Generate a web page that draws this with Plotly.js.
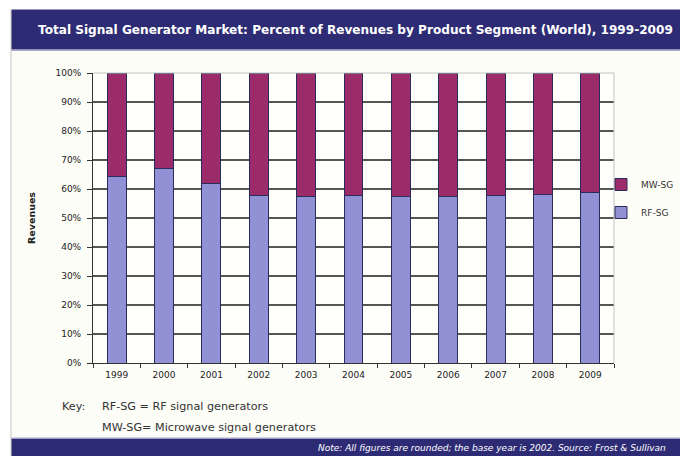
<!DOCTYPE html>
<html>
<head>
<meta charset="utf-8">
<script src="https://cdn.plot.ly/plotly-3.0.1.min.js"></script>
<style>html,body{margin:0;padding:0;background:#fff;}#chart{width:680px;height:456px;}</style>
</head>
<body>
<div id="chart"></div>
<script>
// ---- data ----
const years = ["1999","2000","2001","2002","2003","2004","2005","2006","2007","2008","2009"];
const rfSG = [64.2, 66.9, 61.9, 57.9, 57.4, 57.6, 57.4, 57.4, 57.9, 58.1, 58.7];
const mwSG = [35.8, 33.1, 38.1, 42.1, 42.6, 42.4, 42.6, 42.6, 42.1, 41.9, 41.3];
const yTickVals = [0, 10, 20, 30, 40, 50, 60, 70, 80, 90, 100];
const yTickText = ["0%", "10%", "20%", "30%", "40%", "50%", "60%", "70%", "80%", "90%", "100%"];
const seriesNames = ["RF-SG", "MW-SG"];
const titleText = "Total Signal Generator Market: Percent of Revenues by Product Segment (World), 1999-2009";
const yTitle = "Revenues";
const keyLabel = "Key:";
const keyLines = ["RF-SG = RF signal generators", "MW-SG= Microwave signal generators"];
const noteText = "Note: All figures are rounded; the base year is 2002. Source: Frost &amp; Sullivan";

// ---- layout geometry (pixels) ----
const L = 93, R = 66, T = 73, B = 93;
const W = 680 - L - R, H = 456 - T - B;
const px = x => (x - L) / W;
const py = y => (T + H - y) / H;
const FONT = "DejaVu Sans, Verdana, sans-serif";

const traces = [
  {type: "bar", name: seriesNames[0], x: years, y: rfSG, legendgroup: "rf", legendrank: 2,
   marker: {color: "#9192d6", line: {color: "#2c2c5a", width: 1}}},
  {type: "bar", name: seriesNames[1], x: years, y: mwSG, legendgroup: "mw", legendrank: 1,
   marker: {color: "#9b2c69", line: {color: "#2c2c5a", width: 1}}}
];

const layout = {
  width: 680, height: 456,
  margin: {l: L, r: R, t: T, b: B, pad: 0, autoexpand: false},
  paper_bgcolor: "#fdfdf7",
  plot_bgcolor: "#fefefb",
  barmode: "stack",
  bargap: 0.6,
  showlegend: true,
  legend: {x: px(601), xanchor: "left", y: py(170), yanchor: "top",
           bgcolor: "rgba(0,0,0,0)", traceorder: "grouped", tracegroupgap: 9,
           itemwidth: 30, font: {family: FONT, size: 9, color: "#333"}},
  font: {family: FONT, color: "#222"},
  xaxis: {type: "category", showline: true, linecolor: "#333", linewidth: 1,
          ticks: "outside", tickson: "boundaries", ticklen: 4, tickcolor: "#333",
          ticklabelstandoff: 3, automargin: false,
          tickfont: {family: FONT, size: 9, color: "#222"}, showgrid: false, fixedrange: true},
  yaxis: {range: [0, 100], tickmode: "array", tickvals: yTickVals, ticktext: yTickText,
          showline: true, linecolor: "#333", linewidth: 1, automargin: false,
          ticks: "outside", ticklen: 5, tickcolor: "#333", ticklabelstandoff: 4,
          tickfont: {family: FONT, size: 9, color: "#222"},
          showgrid: true, gridcolor: "#555555", gridwidth: 2, zeroline: false,
          title: {text: yTitle, standoff: 18, font: {family: FONT, size: 9.5, weight: "bold", color: "#222"}}},
  shapes: [
    // white outer margin strips
    {type: "rect", xref: "paper", yref: "paper", x0: px(-5), x1: px(10.5), y0: py(-5), y1: py(461),
     fillcolor: "#ffffff", line: {width: 0}, layer: "below"},
    {type: "rect", xref: "paper", yref: "paper", x0: px(-5), x1: px(685), y0: py(-5), y1: py(9.5),
     fillcolor: "#ffffff", line: {width: 0}, layer: "below"},
    {type: "line", xref: "paper", yref: "paper", x0: px(11), x1: px(11), y0: py(9.5), y1: py(458),
     line: {color: "#c4c4c4", width: 1}, layer: "below"},
    // top banner
    {type: "rect", xref: "paper", yref: "paper", x0: px(11.5), x1: px(682), y0: py(9.5), y1: py(49.5),
     fillcolor: "#2e2b75", line: {width: 0}, layer: "below"},
    {type: "line", xref: "paper", yref: "paper", x0: px(11.5), x1: px(682), y0: py(50.5), y1: py(50.5),
     line: {color: "#a9a7d2", width: 1}, layer: "below"},
    // bottom banner
    {type: "rect", xref: "paper", yref: "paper", x0: px(11.5), x1: px(682), y0: py(438.5), y1: py(458),
     fillcolor: "#2e2b75", line: {width: 0}, layer: "below"},
    {type: "line", xref: "paper", yref: "paper", x0: px(11.5), x1: px(682), y0: py(438), y1: py(438),
     line: {color: "#a9a7d2", width: 1}, layer: "below"},
    // plot border top & right
    {type: "line", xref: "paper", yref: "paper", x0: 0, x1: 1, y0: 1, y1: 1,
     line: {color: "#c2c2c2", width: 1}, layer: "above"},
    {type: "line", xref: "paper", yref: "paper", x0: 1, x1: 1, y0: 0, y1: 1,
     line: {color: "#c2c2c2", width: 1}, layer: "above"}
  ],
  annotations: [
    {text: titleText, xref: "paper", yref: "paper", x: px(36), y: py(29.5),
     xanchor: "left", yanchor: "middle", showarrow: false,
     font: {family: FONT, size: 12.1, weight: "bold", color: "#ffffff"}},
    {text: keyLabel, xref: "paper", yref: "paper", x: px(60), y: py(406.5),
     xanchor: "left", yanchor: "middle", showarrow: false,
     font: {family: FONT, size: 11.2, color: "#333"}},
    {text: keyLines[0], xref: "paper", yref: "paper", x: px(100), y: py(406.5),
     xanchor: "left", yanchor: "middle", showarrow: false,
     font: {family: FONT, size: 11.2, color: "#333"}},
    {text: keyLines[1], xref: "paper", yref: "paper", x: px(100), y: py(427.5),
     xanchor: "left", yanchor: "middle", showarrow: false,
     font: {family: FONT, size: 11.2, color: "#333"}},
    {text: noteText, xref: "paper", yref: "paper", x: px(316), y: py(448), xanchor: "left", yanchor: "middle", showarrow: false,
     font: {family: FONT, size: 9, style: "italic", color: "#ffffff"}}
  ]
};

Plotly.newPlot("chart", traces, layout, {displayModeBar: false, staticPlot: true});
</script>
</body>
</html>
